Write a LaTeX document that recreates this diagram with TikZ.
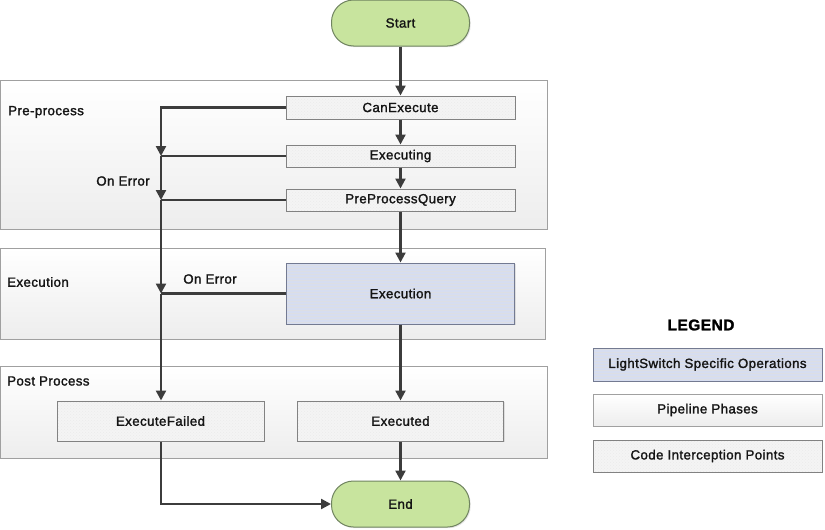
\documentclass[tikz,border=0pt]{standalone}
\usepackage{fontspec}
\setmainfont{Liberation Sans}[FakeBold=1.6,LetterSpace=3]
\usetikzlibrary{arrows.meta,shadows,patterns}
\definecolor{linec}{HTML}{3C3C3C}
\definecolor{termfill}{RGB}{200,228,158}
\definecolor{termdraw}{RGB}{112,132,96}
\definecolor{phasedraw}{RGB}{160,160,160}
\definecolor{icfill}{RGB}{244,244,244}
\definecolor{icdraw}{RGB}{130,130,130}
\definecolor{opfill}{RGB}{214,221,240}
\definecolor{opdraw}{RGB}{115,122,145}
\tikzset{
  lbl/.style={font=\fontsize{13.3}{15}\selectfont, text=black!92},
  shad/.style={drop shadow={shadow xshift=1.2pt, shadow yshift=-1.2pt, opacity=0.2}},
  term/.style={lbl, draw=termdraw, line width=1pt, fill=termfill, rounded corners=22pt,
    minimum width=138pt, minimum height=46pt, inner sep=0pt, shad},
  phase/.style={draw=phasedraw, line width=1pt, top color=white, bottom color=black!7,
    inner sep=0pt},
  icept/.style={lbl, shad, preaction={fill=icfill}, pattern=crosshatch dots,
    pattern color=black!8, draw=icdraw, line width=1pt,
    inner sep=0pt, minimum width=229pt},
  oper/.style={lbl, shad, preaction={fill=opfill}, pattern=horizontal lines,
    pattern color=opdraw!25, draw=opdraw, line width=1pt,
    inner sep=0pt, minimum width=229pt},
  phaselbl/.style={lbl, anchor=west, inner sep=0pt},
  conn/.style={draw=linec, line width=2.3pt},
  arr/.style={conn, -{Triangle[length=10pt,width=10pt]}},
}
\begin{document}
\begin{tikzpicture}[x=1pt,y=-1pt]
\useasboundingbox[fill=white] (0,0) rectangle (825,530);

% phases
\node[phase, minimum width=547pt, minimum height=149pt] (pre) at (274,154.5) {};
\node[phase, minimum width=545pt, minimum height=91pt] (exph) at (273,293.5) {};
\node[phase, minimum width=547pt, minimum height=92pt] (post) at (274,412) {};
\node[phaselbl] (prelbl) at (8,112) {Pre-process};
\node[phaselbl] (exlbl) at (7,282) {Execution};
\node[phaselbl] (postlbl) at (7,381) {Post Process};

% terminals
\node[term] (start) at (400.5,23) {Start};
\node[term] (end) at (400.5,504) {End};

% interception points
\node[icept, minimum height=23pt] (canexec) at (400.5,107.5) {CanExecute};
\node[icept, minimum height=22pt] (executing) at (400.5,156) {Executing};
\node[icept, minimum height=22pt] (ppq) at (400.5,200) {PreProcessQuery};
\node[oper, minimum width=228pt, minimum height=61pt] (execution) at (400.5,293.5) {Execution};
\node[icept, minimum width=207pt, minimum height=40pt] (failed) at (160.5,421) {ExecuteFailed};
\node[icept, minimum width=206pt, minimum height=40pt] (executed) at (400.5,421) {Executed};

% error labels
\node[lbl] (err1) at (123,181) {On Error};
\node[lbl] (err2) at (210,279) {On Error};

% main flow
\coordinate (ex) at (161,0);
\draw[arr] (start.south) -- (canexec.north);
\draw[arr] (canexec.south) -- (executing.north);
\draw[arr] (executing.south) -- (ppq.north);
\draw[arr] (ppq.south) -- (execution.north);
\draw[arr] (execution.south) -- (executed.north);
\draw[arr] (executed.south) -- (end.north);

% error flow
\draw[conn] (canexec.west) -- (canexec.west -| ex) coordinate (j1);
\draw[conn] (executing.west) -- (executing.west -| ex) coordinate (j2);
\draw[conn] (ppq.west) -- (ppq.west -| ex) coordinate (j3);
\draw[conn] (execution.west) -- (execution.west -| ex) coordinate (j4);
\draw[arr] ([yshift=1.15pt]j1) -- (j2);
\draw[arr] (j2) -- (j3);
\draw[arr] (j3) -- (j4);
\draw[arr] (j4) -- (failed.north -| ex);
\draw[arr] (failed.south -| ex) |- (end.west);

% legend
\node[font=\fontsize{15.5}{18}\selectfont\bfseries] (legend) at (701,325) {LEGEND};
\node[oper, minimum height=33pt] (lg1) at (707.5,364.5) {LightSwitch Specific Operations};
\node[phase, lbl, shad, minimum width=229pt, minimum height=32pt] (lg2) at (707.5,410) {Pipeline Phases};
\node[icept, minimum height=32pt] (lg3) at (707.5,456) {Code Interception Points};
\end{tikzpicture}
\end{document}
